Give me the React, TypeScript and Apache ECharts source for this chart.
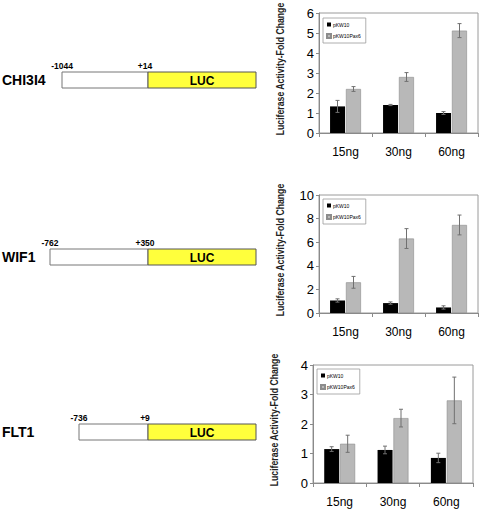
import React, { useEffect, useRef } from "react";
import * as echarts from "echarts";

const categories = ["15ng", "30ng", "60ng"];
const seriesNames = ["pKW10", "pKW10Pax6"];
const yAxisTitle = "Luciferase Activity-Fold Change";

const chi3l4Empty = [1.33, 1.4, 1.0];
const chi3l4EmptyErr = [0.3, 0.03, 0.07];
const chi3l4Pax6 = [2.2, 2.8, 5.12];
const chi3l4Pax6Err = [0.12, 0.22, 0.35];

const wif1Empty = [1.06, 0.84, 0.47];
const wif1EmptyErr = [0.14, 0.1, 0.14];
const wif1Pax6 = [2.6, 6.31, 7.46];
const wif1Pax6Err = [0.5, 0.84, 0.84];

const flt1Empty = [1.15, 1.12, 0.85];
const flt1EmptyErr = [0.08, 0.13, 0.16];
const flt1Pax6 = [1.33, 2.2, 2.8];
const flt1Pax6Err = [0.29, 0.3, 0.79];

const geneNames = ["CHI3I4", "WIF1", "FLT1"];
const promoterStart = ["-1044", "-762", "-736"];
const promoterEnd = ["+14", "+350", "+9"];
const reporterLabel = "LUC";

const yMax = [6, 10, 4];
const yInterval = [1, 2, 1];

const FONT = "Arial, 'Liberation Sans', sans-serif";

export default function App() {
  const ref = useRef<HTMLDivElement>(null);

  useEffect(() => {
    if (!ref.current) return;
    const chart = echarts.init(ref.current, null, { renderer: "svg" });

    const grids = [
      { left: 319, top: 13, width: 159, height: 120 },
      { left: 319, top: 195, width: 159, height: 118 },
      { left: 313, top: 365, width: 160, height: 118 },
    ];
    const legendPos = [
      { left: 323, top: 18 },
      { left: 323, top: 199 },
      { left: 317, top: 369 },
    ];
    const emptyVals = [chi3l4Empty, wif1Empty, flt1Empty];
    const emptyErrs = [chi3l4EmptyErr, wif1EmptyErr, flt1EmptyErr];
    const paxVals = [chi3l4Pax6, wif1Pax6, flt1Pax6];
    const paxErrs = [chi3l4Pax6Err, wif1Pax6Err, flt1Pax6Err];

    const barOffset = 8;

    const errRender = (params: any, api: any) => {
      const ci = api.value(0);
      const v = api.value(1);
      const e = api.value(2);
      const side = api.value(3);
      const top = api.coord([ci, v + e]);
      const bot = api.coord([ci, v - e]);
      const x = top[0] + side * barOffset;
      const cap = 2;
      const style = { stroke: "#707070", lineWidth: 1 };
      return {
        type: "group",
        children: [
          { type: "line", shape: { x1: x, y1: top[1], x2: x, y2: bot[1] }, style },
          { type: "line", shape: { x1: x - cap, y1: top[1], x2: x + cap, y2: top[1] }, style },
          { type: "line", shape: { x1: x - cap, y1: bot[1], x2: x + cap, y2: bot[1] }, style },
        ],
      };
    };

    const series: any[] = [];
    for (let i = 0; i < 3; i++) {
      series.push({
        name: seriesNames[0],
        type: "bar",
        xAxisIndex: i,
        yAxisIndex: i,
        data: emptyVals[i],
        barWidth: 15,
        barGap: "6%",
        itemStyle: { color: "#000000" },
      });
      series.push({
        name: seriesNames[1],
        type: "bar",
        xAxisIndex: i,
        yAxisIndex: i,
        data: paxVals[i],
        barWidth: 15,
        barGap: "6%",
        itemStyle: { color: "#b8b8b8", borderColor: "#8c8c8c", borderWidth: 0.6 },
      });
      const errData: number[][] = [];
      for (let c = 0; c < categories.length; c++) {
        errData.push([c, emptyVals[i][c], emptyErrs[i][c], -1]);
        errData.push([c, paxVals[i][c], paxErrs[i][c], 1]);
      }
      series.push({
        type: "custom",
        xAxisIndex: i,
        yAxisIndex: i,
        data: errData,
        encode: { x: 0, y: 1 },
        renderItem: errRender,
        z: 5,
        silent: true,
      });
    }

    const graphics: any[] = [];
    const boxTops = [72, 249, 424];
    const boxLefts = [62, 50, 79];
    const junction = 148;
    const boxRight = 256;
    const boxH = 16;
    for (let i = 0; i < 3; i++) {
      const t = boxTops[i];
      graphics.push({
        type: "text",
        x: 2,
        y: t + boxH / 2,
        style: {
          text: geneNames[i],
          font: `bold 14px ${FONT}`,
          fill: "#000",
          textVerticalAlign: "middle",
          textAlign: "left",
        },
      });
      graphics.push({
        type: "rect",
        shape: { x: boxLefts[i], y: t, width: junction - boxLefts[i], height: boxH },
        style: { fill: "#ffffff", stroke: "#777777", lineWidth: 1 },
      });
      graphics.push({
        type: "rect",
        shape: { x: junction, y: t, width: boxRight - junction, height: boxH },
        style: { fill: "#ffff3c", stroke: "#555555", lineWidth: 1 },
      });
      graphics.push({
        type: "text",
        x: (junction + boxRight) / 2,
        y: t + boxH / 2 + 1,
        style: {
          text: reporterLabel,
          font: `bold 12px ${FONT}`,
          fill: "#000",
          textAlign: "center",
          textVerticalAlign: "middle",
        },
      });
      graphics.push({
        type: "text",
        x: boxLefts[i],
        y: t - 6,
        style: {
          text: promoterStart[i],
          font: `bold 8.5px ${FONT}`,
          fill: "#000",
          textAlign: "center",
          textVerticalAlign: "middle",
        },
      });
      graphics.push({
        type: "text",
        x: junction - 3,
        y: t - 6,
        style: {
          text: promoterEnd[i],
          font: `bold 8.5px ${FONT}`,
          fill: "#000",
          textAlign: "center",
          textVerticalAlign: "middle",
        },
      });
      const g = grids[i];
      graphics.push({
        type: "text",
        x: g.left - 39,
        y: g.top + g.height / 2 - 4,
        rotation: Math.PI / 2,
        scaleX: 0.83,
        style: {
          text: yAxisTitle,
          font: `bold 10.5px ${FONT}`,
          fill: "#222",
          textAlign: "center",
          textVerticalAlign: "middle",
        },
      });
    }

    const option: any = {
      animation: false,
      backgroundColor: "#ffffff",
      grid: grids.map((g) => ({
        ...g,
        show: true,
        borderColor: "#9a9a9a",
        borderWidth: 1,
        backgroundColor: "transparent",
        containLabel: false,
      })),
      legend: legendPos.map((p) => ({
        ...p,
        orient: "vertical",
        data: [
          { name: seriesNames[0], icon: "rect" },
          { name: seriesNames[1], icon: "rect" },
        ],
        itemWidth: 4,
        itemHeight: 4,
        itemGap: 6,
        padding: [4, 5, 4, 3],
        borderColor: "#9a9a9a",
        borderWidth: 0.8,
        selectedMode: false,
        textStyle: { fontSize: 5, color: "#000", fontFamily: FONT, padding: [0, 0, 0, -3] },
      })),
      xAxis: grids.map((_, i) => ({
        type: "category",
        gridIndex: i,
        data: categories,
        boundaryGap: true,
        axisLine: { show: true, lineStyle: { color: "#8a8a8a", width: 1 } },
        axisTick: { show: true, alignWithLabel: false, length: 4, lineStyle: { color: "#8a8a8a" } },
        axisLabel: { fontSize: 12, color: "#000", margin: 13, fontFamily: FONT },
        splitLine: { show: false },
      })),
      yAxis: grids.map((_, i) => ({
        type: "value",
        gridIndex: i,
        min: 0,
        max: yMax[i],
        interval: yInterval[i],
        axisLine: { show: true, lineStyle: { color: "#8a8a8a", width: 1 } },
        axisTick: { show: true, length: 3, lineStyle: { color: "#8a8a8a" } },
        axisLabel: { fontSize: 13, color: "#000", margin: 5, fontFamily: FONT },
        splitLine: { show: false },
      })),
      series,
      graphic: graphics,
    };

    chart.setOption(option);
    return () => {
      chart.dispose();
    };
  }, []);

  return (
    <div
      ref={ref}
      style={{ position: "absolute", left: 0, top: 0, width: 480, height: 509, background: "#fff" }}
    />
  );
}
